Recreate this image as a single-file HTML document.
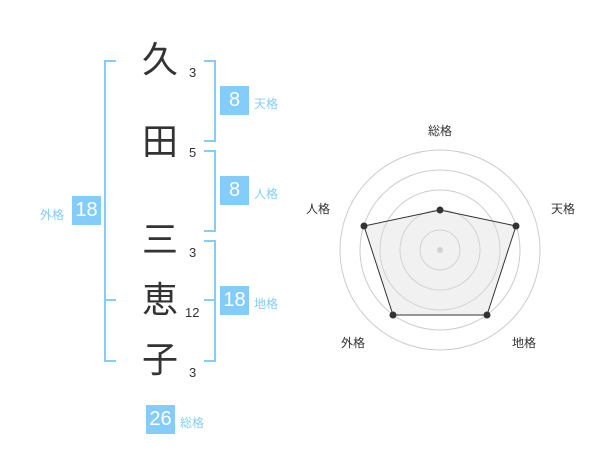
<!DOCTYPE html>
<html><head><meta charset="utf-8"><style>
body{margin:0;background:#fff;width:600px;height:470px;overflow:hidden;position:relative;font-family:"Liberation Sans","Noto Sans CJK JP",sans-serif}
.a{position:absolute}
.k{font-size:36px;color:#333;width:50px;text-align:center;line-height:40px}
.n{font-size:13px;color:#333}
.b{background:#84cdfa;color:#fff;font-size:20px;text-align:center;line-height:29px;height:29px;width:29px}
.l{font-size:12px;color:#84cdfa}
.br{border:2px solid #84cdfa}
</style></head><body>
<div class="a br" style="left:104px;top:60px;width:10px;height:298px;border-right:none"></div>
<div class="a" style="left:104px;top:299px;width:12px;height:2px;background:#84cdfa"></div>
<div class="a br" style="left:204px;top:60px;width:10px;height:78px;border-left:none"></div>
<div class="a br" style="left:204px;top:150px;width:10px;height:78px;border-left:none"></div>
<div class="a br" style="left:204px;top:240px;width:10px;height:118px;border-left:none"></div>
<div class="a" style="left:204px;top:299px;width:12px;height:2px;background:#84cdfa"></div>

<div class="a k" style="left:135px;top:40px">久</div>
<div class="a k" style="left:135px;top:122px">田</div>
<div class="a k" style="left:135px;top:220px">三</div>
<div class="a k" style="left:135px;top:280px">恵</div>
<div class="a k" style="left:135px;top:340px">子</div>
<div class="a n" style="left:189px;top:65px">3</div>
<div class="a n" style="left:189px;top:145px">5</div>
<div class="a n" style="left:189px;top:245px">3</div>
<div class="a n" style="left:185px;top:305px">12</div>
<div class="a n" style="left:189px;top:365px">3</div>

<div class="a b" style="left:220px;top:86px">8</div><div class="a l" style="left:254px;top:95px">天格</div>
<div class="a b" style="left:220px;top:176px">8</div><div class="a l" style="left:254px;top:185px">人格</div>
<div class="a b" style="left:220px;top:286px">18</div><div class="a l" style="left:254px;top:295px">地格</div>
<div class="a b" style="left:72px;top:196px">18</div><div class="a l" style="left:40px;top:206px">外格</div>
<div class="a b" style="left:146px;top:405px">26</div><div class="a l" style="left:180px;top:414px">総格</div>

<svg class="a" style="left:0;top:0" width="600" height="470">
<g fill="none" stroke="#ccc" stroke-width="1">
<circle cx="440" cy="250" r="20"/><circle cx="440" cy="250" r="40"/><circle cx="440" cy="250" r="60"/><circle cx="440" cy="250" r="80"/><circle cx="440" cy="250" r="100"/>
</g>
<circle cx="440" cy="250" r="3" fill="#ccc"/>
<polygon points="440,210 516,226 487,315 393,315 364,226" fill="rgba(220,220,220,0.4)" stroke="#333" stroke-width="1"/>
<g fill="#333"><circle cx="440" cy="210" r="3.5"/><circle cx="516" cy="226" r="3.5"/><circle cx="487" cy="315" r="3.5"/><circle cx="393" cy="315" r="3.5"/><circle cx="364" cy="226" r="3.5"/></g>
<g font-size="12" fill="#333" text-anchor="middle" font-family="Liberation Sans,Noto Sans CJK JP,sans-serif">
<text x="440" y="135">総格</text><text x="563" y="213">天格</text><text x="318" y="213">人格</text><text x="524" y="347">地格</text><text x="353" y="347">外格</text>
</g>
</svg>
</body></html>
